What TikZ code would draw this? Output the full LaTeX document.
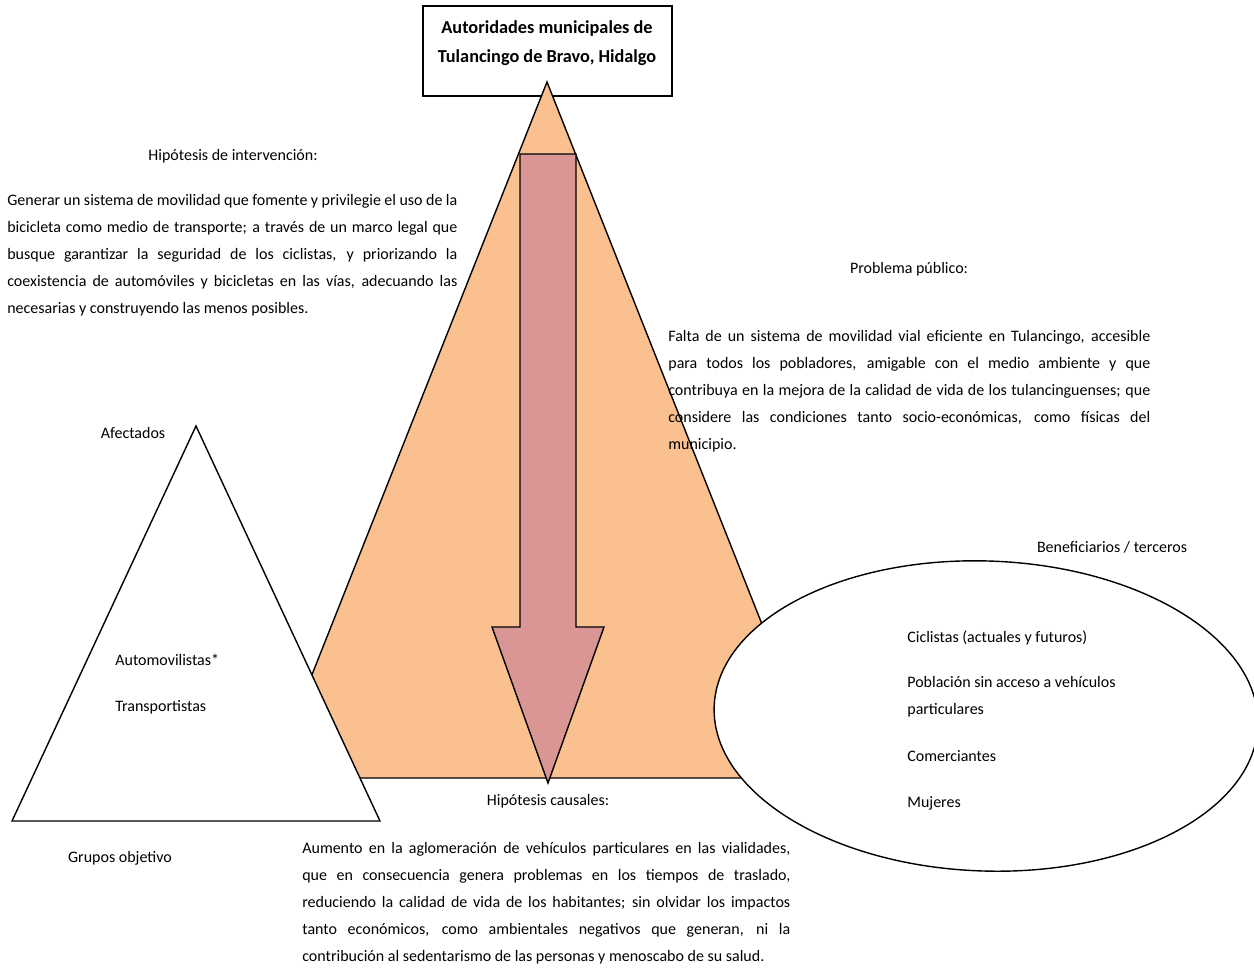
\documentclass[tikz,border=0pt]{standalone}
\usepackage{fontspec}
\setmainfont{Carlito}
\definecolor{piramide}{RGB}{250,192,144}
\definecolor{flecha}{RGB}{217,150,148}
\hyphenpenalty=10000
\exhyphenpenalty=10000
\tolerance=9999
\begin{document}
\begin{tikzpicture}[x=0.2mm, y=-0.2mm,
    txt/.style={inner sep=0pt, font=\fontsize{9.1}{15.5}\selectfont},
    para/.style={txt, anchor=base west, align=justify},
    titulo/.style={txt, anchor=base},
    trazo/.style={draw=black, line width=0.8pt, line join=miter}]
  \useasboundingbox (0,0) rectangle (1254,969);
  % autoridades
  \draw[trazo, line width=1pt] (423,6) rectangle (672,96);
  \node[txt, anchor=base, align=center, font=\fontsize{10.4}{16.4}\selectfont\bfseries] (autoridades) at (547,62)
    {Autoridades municipales de\\Tulancingo de Bravo, Hidalgo};
  % piramide y flecha
  \draw[trazo, fill=piramide] (547,82) -- (271,778) -- (823,778) -- cycle;
  \draw[trazo, fill=flecha] (520,154) -- (576,154) -- (576,627) -- (604,627)
    -- (548,783) -- (492,627) -- (520,627) -- cycle;
  % afectados y beneficiarios
  \draw[trazo, fill=white] (196,426) -- (12,821) -- (380,821) -- cycle;
  \draw[trazo, fill=white, rotate around={-2:(986,716)}] (986,716) ellipse [x radius=272, y radius=155];
  % textos
  \node[titulo] (hintervencion) at (233,160) {Hipótesis de intervención:};
  \node[para, text width=90mm] (intervencion) at (7,205)
    {Generar un sistema de movilidad que fomente y privilegie el uso de la\linebreak
     bicicleta como medio de transporte; a través de un marco legal que\linebreak
     busque garantizar la seguridad de los ciclistas, y priorizando la\linebreak
     coexistencia de automóviles y bicicletas en las vías, adecuando las\linebreak
     necesarias y construyendo las menos posibles.};
  \node[titulo] (hproblema) at (909,273) {Problema público:};
  \node[para, text width=96.4mm] (problema) at (668,341)
    {Falta de un sistema de movilidad vial eficiente en Tulancingo, accesible\linebreak
     para todos los pobladores, amigable con el medio ambiente y que\linebreak
     contribuya en la mejora de la calidad de vida de los tulancinguenses; que\linebreak
     considere las condiciones tanto socio-económicas, como físicas del\linebreak
     municipio.};
  \node[titulo] (hcausales) at (548,805) {Hipótesis causales:};
  \node[para, text width=97.6mm] (causales) at (302,853)
    {Aumento en la aglomeración de vehículos particulares en las vialidades,\linebreak
     que en consecuencia genera problemas en los tiempos de traslado,\linebreak
     reduciendo la calidad de vida de los habitantes; sin olvidar los impactos\linebreak
     tanto económicos, como ambientales negativos que generan, ni la\linebreak
     contribución al sedentarismo de las personas y menoscabo de su salud.};
  \node[titulo] (afectados) at (133,438) {Afectados};
  \node[txt, anchor=base west] (automovilistas) at (115,665) {Automovilistas*};
  \node[txt, anchor=base west] (transportistas) at (115,711) {Transportistas};
  \node[titulo] (grupos) at (120,862) {Grupos objetivo};
  \node[titulo] (beneficiarios) at (1112,552) {Beneficiarios / terceros};
  \node[txt, anchor=base west] (ciclistas) at (907,642) {Ciclistas (actuales y futuros)};
  \node[txt, anchor=base west] (poblacion) at (907,687) {Población sin acceso a vehículos};
  \node[txt, anchor=base west] (particulares) at (907,714) {particulares};
  \node[txt, anchor=base west] (comerciantes) at (907,761) {Comerciantes};
  \node[txt, anchor=base west] (mujeres) at (907,807) {Mujeres};
\end{tikzpicture}
\end{document}
